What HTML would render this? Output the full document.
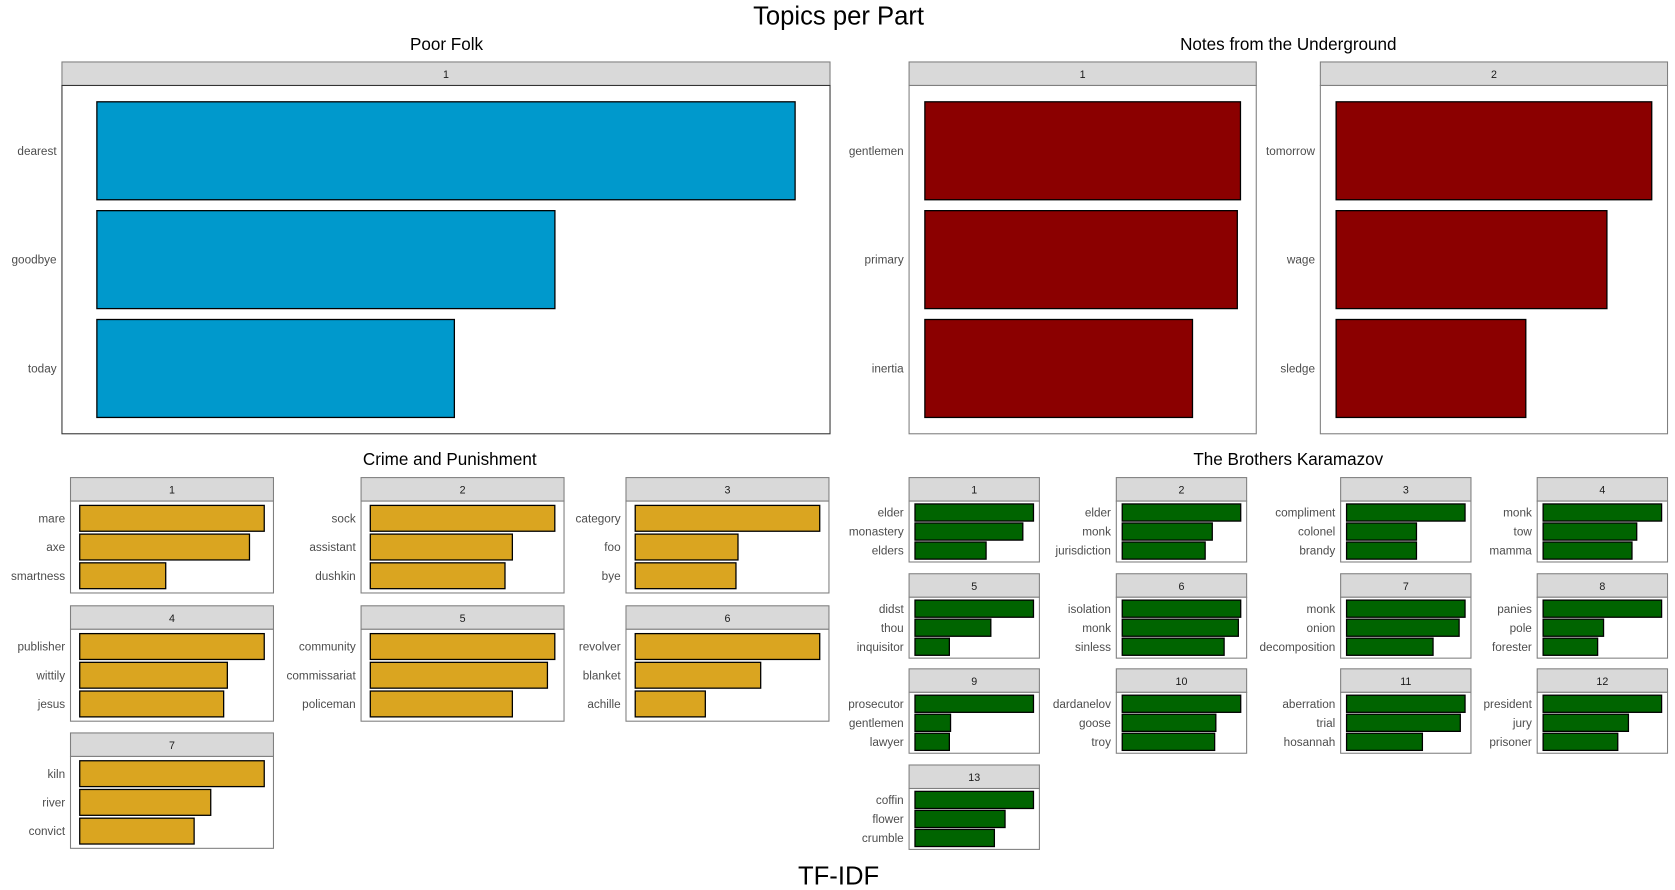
<!DOCTYPE html>
<html><head><meta charset="utf-8"><style>
html,body{margin:0;padding:0;background:#fff;}
svg{display:block;font-family:"Liberation Sans",Arial,sans-serif;}
</style></head><body>
<svg id="chart" width="1675" height="890" viewBox="0 0 1568 833" preserveAspectRatio="none" xmlns="http://www.w3.org/2000/svg">
<text x="785" y="23" text-anchor="middle" font-size="24" fill="#000">Topics per Part</text>
<text x="418" y="47" text-anchor="middle" font-size="16" fill="#000">Poor Folk</text>
<text x="1206" y="47" text-anchor="middle" font-size="16" fill="#000">Notes from the Underground</text>
<text x="421" y="435" text-anchor="middle" font-size="16" fill="#000">Crime and Punishment</text>
<text x="1206" y="435" text-anchor="middle" font-size="16" fill="#000">The Brothers Karamazov</text>
<text x="785" y="828" text-anchor="middle" font-size="24" fill="#000">TF-IDF</text>
<g id="panels"></g>
</svg>
<script>
// Data: per-panel terms and relative tf-idf values
const poorFolkTerms = [["dearest","goodbye","today"]];
const poorFolkValues = [[1.0,0.656,0.512]];
const notesTerms = [["gentlemen","primary","inertia"],["tomorrow","wage","sledge"]];
const notesValues = [[1.0,0.99,0.848],[1.0,0.858,0.601]];
const crimeTerms = [["mare","axe","smartness"],["sock","assistant","dushkin"],["category","foo","bye"],["publisher","wittily","jesus"],["community","commissariat","policeman"],["revolver","blanket","achille"],["kiln","river","convict"]];
const crimeValues = [[1,0.92,0.466],[1,0.77,0.73],[1,0.557,0.546],[1,0.80,0.78],[1,0.96,0.77],[1,0.68,0.38],[1,0.71,0.62]];
const brosTerms = [["elder","monastery","elders"],["elder","monk","jurisdiction"],["compliment","colonel","brandy"],["monk","tow","mamma"],["didst","thou","inquisitor"],["isolation","monk","sinless"],["monk","onion","decomposition"],["panies","pole","forester"],["prosecutor","gentlemen","lawyer"],["dardanelov","goose","troy"],["aberration","trial","hosannah"],["president","jury","prisoner"],["coffin","flower","crumble"]];
const brosValues = [[1,0.91,0.60],[1,0.76,0.70],[1,0.59,0.59],[1,0.79,0.75],[1,0.64,0.29],[1,0.98,0.86],[1,0.95,0.73],[1,0.51,0.46],[1,0.30,0.29],[1,0.79,0.78],[1,0.96,0.64],[1,0.72,0.63],[1,0.76,0.67]];

const NS="http://www.w3.org/2000/svg";
const root=document.getElementById('panels');
function mk(tag,attrs,parent){const e=document.createElementNS(NS,tag);for(const k in attrs)e.setAttribute(k,attrs[k]);(parent||root).appendChild(e);return e;}

function panel(group,idx,label,x,y,w,stripH,h,terms,values,color,fs,border){
  const g=mk('g',{});
  
  
  const strip=mk('rect',{x:x,y:y,width:w,height:stripH,fill:'#d9d9d9',stroke:'#7f7f7f','stroke-width':1},g);
  
  
  const st=mk('text',{x:x+w/2,y:y+stripH/2+4,'text-anchor':'middle','font-size':fs-1,fill:'#1a1a1a'},g);
  st.textContent=label;
  
  
  const py=y+stripH;
  const frame=mk('rect',{x:x,y:py,width:w,height:h,fill:'#fff',stroke:border,'stroke-width':1},g);
  
  
  const max=Math.max(...values);
  const xs=v=>x+w*(v+0.05*max)/(1.1*max);
  const unit=h/3.2;
  const ys=i=>py+unit*(0.6+i);
  terms.forEach((t,i)=>{
    const cy=ys(i);
    const r=mk('rect',{x:xs(0),y:cy-unit*0.45,width:xs(values[i])-xs(0),height:unit*0.9,fill:color,stroke:'#000','stroke-width':1.2},g);
    
    
    const tl=mk('text',{x:x-5,y:cy+fs*0.35,'text-anchor':'end','font-size':fs,fill:'#4d4d4d'},g);
    tl.textContent=t;
    
    
  });
}
panel('poor-folk',0,'1',58,58,719,22,326,poorFolkTerms[0],poorFolkValues[0],'#0099CC',11,'#333');
const notesX=[851,1236];
notesTerms.forEach((t,i)=>panel('notes',i,String(i+1),notesX[i],58,325,22,326,t,notesValues[i],'#8B0000',11,'#7f7f7f'));
const crimeX=[66,338,586], crimeY=[447,567,686];
crimeTerms.forEach((t,i)=>panel('crime',i,String(i+1),crimeX[i%3],crimeY[Math.floor(i/3)],190,22,86,t,crimeValues[i],'#DAA520',11,'#7f7f7f'));
const brosX=[851,1045,1255,1439], brosY=[447,537,626,716];
brosTerms.forEach((t,i)=>panel('brothers',i,String(i+1),brosX[i%4],brosY[Math.floor(i/4)],122,22,57,t,brosValues[i],'#006400',11,'#7f7f7f'));
</script>
</body></html>
